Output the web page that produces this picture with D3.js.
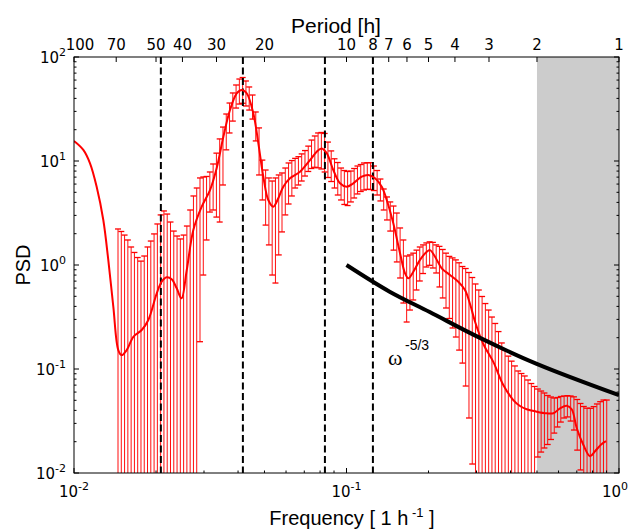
<!DOCTYPE html>
<html><head><meta charset="utf-8">
<script src="https://cdn.jsdelivr.net/npm/d3@7"></script>
<style>body{margin:0;background:#fff}</style>
</head><body><svg id="c" width="630" height="529"></svg>
<script>
// ---- data ----
const curveFreq = [0.0100,0.01082,0.01145,0.01211,0.01281,0.01336,0.01394,0.01454,0.01496,0.01561,0.01651,0.01772,0.01874,0.02012,0.02098,0.02189,0.02283,0.02382,0.02480,0.02593,0.02741,0.02942,0.03156,0.03340,0.03531,0.03736,0.03955,0.04125,0.04303,0.04550,0.04748,0.04952,0.05164,0.05387,0.05620,0.05862,0.06203,0.06753,0.07346,0.07776,0.08110,0.08459,0.08944,0.09465,0.1002,0.1059,0.1137,0.1202,0.1273,0.1347,0.1405,0.1485,0.1572,0.1640,0.1686,0.1759,0.1861,0.1970,0.2025,0.2113,0.2236,0.2398,0.2572,0.2722,0.2840,0.2963,0.3177,0.3457,0.3762,0.4094,0.4332,0.4585,0.4989,0.5429,0.5741,0.6075,0.6429,0.6706,0.6995,0.7396,0.7830,0.8166,0.8643,0.8963];
const curvePSD = [15.6,12.8,9.50,5.66,2.71,1.12,0.397,0.152,0.136,0.152,0.204,0.237,0.296,0.534,0.691,0.761,0.729,0.597,0.478,0.895,2.17,3.64,5.26,8.56,17.0,30.9,44.8,48.2,44.8,28.8,14.8,7.06,4.22,3.64,4.38,5.66,6.82,7.89,10.2,12.3,13.2,11.9,8.19,6.10,5.66,6.10,7.06,7.34,6.82,5.66,4.22,2.52,1.30,0.832,0.745,0.862,1.12,1.34,1.39,1.20,0.930,0.801,0.691,0.575,0.422,0.285,0.174,0.117,0.0702,0.0503,0.0441,0.0410,0.0389,0.0375,0.0375,0.0419,0.0444,0.0410,0.0271,0.0187,0.0145,0.0162,0.0190,0.0202];

// error bars on a log-spaced frequency grid
const barLogFreqStart = -1.8385;
const barLogFreqStep = 0.012037;
const barTop = [2.22,2.10,1.94,1.74,1.49,1.32,1.18,1.09,1.22,1.49,
 1.70,1.99,2.48,3.03,3.31,3.09,2.59,2.12,1.90,1.78,
 1.94,2.37,3.38,4.61,5.50,6.87,7.02,7.10,7.84,9.36,
 11.9,16.3,21.2,28.3,36.1,45.1,53.8,61.4,63.5,58.8,
 51.5,43.1,29.6,20.8,10.2,8.19,6.87,6.42,6.87,7.34,
 7.67,8.56,9.57,10.1,10.6,11.0,11.7,12.6,13.9,15.9,
 17.4,18.6,18.8,18.4,15.2,12.5,10.5,9.67,8.56,8.10,
 7.93,8.01,8.47,8.95,9.25,9.57,9.63,9.63,8.95,8.10,
 6.71,5.38,4.51,4.04,3.69,3.16,2.27,1.74,1.22,1.25,
 1.30,1.39,1.49,1.56,1.63,1.67,1.65,1.56,1.51,1.41,
 1.30,1.21,1.17,1.12,1.05,0.967,0.925,0.847,0.758,0.657,
 0.575,0.498,0.426,0.369,0.316,0.274,0.229,0.178,0.151,0.133,
 0.119,0.107,0.0957,0.0905,0.0857,0.0784,0.0725,0.0679,0.0642,0.0614,
 0.0588,0.0556,0.0538,0.0526,0.0532,0.0544,0.0550,0.0554,0.0550,0.0540,
 0.0509,0.0466,0.0436,0.0420,0.0419,0.0435,0.0461,0.0485,0.0503,0.0503];
const barBottom = [0,0,0,0,0,0,0,0,0,0,
 0,0,0,0,0,0,0,0,0,0,
 0,0,0,0,0,0.183,0.801,1.74,3.23,3.38,
 2.89,2.59,5.88,12.8,18.6,24.2,32.3,35.3,35.9,33.8,
 30.9,25.3,15.6,7.34,4.22,2.42,1.56,0.801,0.671,1.25,
 2.08,3.03,3.86,4.61,5.50,5.88,6.42,7.17,7.93,8.47,
 8.70,8.60,8.38,7.84,6.94,6.35,5.50,4.71,4.22,3.82,
 3.73,4.04,4.41,4.82,5.09,5.26,5.34,5.32,5.20,4.71,
 4.13,3.38,2.71,2.12,1.39,1.07,0.750,0.431,0.283,0.369,
 0.461,0.575,0.702,0.828,0.957,0.993,0.936,0.838,0.615,0.482,
 0.386,0.306,0.248,0.203,0.152,0.114,0.0686,0.0338,0.0122,0,
 0,0,0,0,0,0,0,0,0,0,
 0,0,0,0,0,0,0,0,0.01425,0.0159,
 0.0174,0.0188,0.0210,0.0242,0.0277,0.0309,0.0338,0.0346,0.0316,0.0259,
 0.0166,0.0107,0,0,0,0,0,0,0,0];

const slopeFreq = [0.1,0.144,0.202,0.309,0.499,1.0];
const slopePSD = [1.0,0.554,0.353,0.199,0.112,0.056];

const markerPeriods = [48,24,12,8];
const periodTicks = [100,70,50,40,30,20,10,8,7,6,5,4,3,2,1];
const shadeFreq = [0.5,1];
const xMajor = [0.01,0.1,1];
const yMajor = [0.01,0.1,1,10,100];

// ---- layout ----
const L=74, R=619, T=57, B=473;
const svg = d3.select('#c');
const x = d3.scaleLog().domain([0.01,1]).range([L,R]);
const y = d3.scaleLog().domain([0.01,100]).range([B,T]);

svg.append('defs').append('clipPath').attr('id','clip')
  .append('rect').attr('x',L).attr('y',T).attr('width',R-L).attr('height',B-T);

const plot = svg.append('g').attr('clip-path','url(#clip)');

// shaded band
plot.append('rect').attr('x',x(shadeFreq[0])).attr('y',T)
  .attr('width',x(shadeFreq[1])-x(shadeFreq[0])).attr('height',B-T)
  .attr('fill','#cccccc');

// error bars
const bars = barTop.map((t,i)=>({f:Math.pow(10,barLogFreqStart+i*barLogFreqStep),top:t,bot:barBottom[i]}));
const gb = plot.append('g');
gb.selectAll('line.v').data(bars).join('line').attr('class','v')
  .attr('x1',d=>x(d.f)).attr('x2',d=>x(d.f))
  .attr('y1',d=>y(d.top)).attr('y2',d=>d.bot>0?y(d.bot):B+2)
  .attr('stroke','#ff0000').attr('stroke-width',1).attr('stroke-opacity',0.95);
gb.selectAll('line.t').data(bars).join('line').attr('class','t')
  .attr('x1',d=>x(d.f)-3).attr('x2',d=>x(d.f)+3)
  .attr('y1',d=>y(d.top)).attr('y2',d=>y(d.top))
  .attr('stroke','#ff0000').attr('stroke-width',1.3);
gb.selectAll('line.b').data(bars.filter(d=>d.bot>0.01)).join('line').attr('class','b')
  .attr('x1',d=>x(d.f)-3).attr('x2',d=>x(d.f)+3)
  .attr('y1',d=>y(d.bot)).attr('y2',d=>y(d.bot))
  .attr('stroke','#ff0000').attr('stroke-width',1.3);

// dashed period markers
plot.selectAll('line.dash').data(markerPeriods).join('line').attr('class','dash')
  .attr('x1',d=>x(1/d)).attr('x2',d=>x(1/d)).attr('y1',T).attr('y2',B)
  .attr('stroke','#000').attr('stroke-width',2).attr('stroke-dasharray','7,3.5');

// smooth PSD curve
const line = d3.line().x(d=>x(d[0])).y(d=>y(d[1])).curve(d3.curveCatmullRom.alpha(0.5));
plot.append('path').datum(curveFreq.map((f,i)=>[f,curvePSD[i]]))
  .attr('d',line).attr('fill','none').attr('stroke','#ff0000').attr('stroke-width',2);

// -5/3 reference line
plot.append('path').datum(slopeFreq.map((f,i)=>[f,slopePSD[i]]))
  .attr('d',line).attr('fill','none').attr('stroke','#000').attr('stroke-width',4);

// omega label
svg.append('text').attr('x',388).attr('y',365)
  .attr('font-family','Liberation Serif, serif').attr('font-size',22).attr('fill','#000').text('ω');
svg.append('text').attr('x',405).attr('y',350)
  .attr('font-family','Liberation Sans, Arial, sans-serif').attr('font-size',14).attr('fill','#000').text('-5/3');

// frame
svg.append('rect').attr('x',L).attr('y',T).attr('width',R-L).attr('height',B-T)
  .attr('fill','none').attr('stroke','#000').attr('stroke-width',1);

// ticks
const tk = svg.append('g').attr('stroke','#000').attr('stroke-width',1);
function minorsOf(majors){const m=[];for(let k=0;k<majors.length-1;k++)for(let j=2;j<=9;j++)m.push(majors[k]*j);return m;}
xMajor.forEach(v=>{tk.append('line').attr('x1',x(v)).attr('x2',x(v)).attr('y1',B).attr('y2',B-5);});
minorsOf(xMajor).forEach(v=>{tk.append('line').attr('x1',x(v)).attr('x2',x(v)).attr('y1',B).attr('y2',B-2.5);});
yMajor.forEach(v=>{
  tk.append('line').attr('x1',L).attr('x2',L+5).attr('y1',y(v)).attr('y2',y(v));
  tk.append('line').attr('x1',R).attr('x2',R-5).attr('y1',y(v)).attr('y2',y(v));
});
minorsOf(yMajor).forEach(v=>{
  tk.append('line').attr('x1',L).attr('x2',L+2.5).attr('y1',y(v)).attr('y2',y(v));
  tk.append('line').attr('x1',R).attr('x2',R-2.5).attr('y1',y(v)).attr('y2',y(v));
});
periodTicks.forEach(p=>{tk.append('line').attr('x1',x(1/p)).attr('x2',x(1/p)).attr('y1',T).attr('y2',T+5);});

// tick labels
const tf = 'DejaVu Sans, sans-serif';
function powLabel(g, v, xx, yy, anchor){
  const e = Math.round(Math.log10(v));
  const t = g.append('text').attr('x',xx).attr('y',yy).attr('text-anchor',anchor)
    .attr('font-family',tf).attr('font-size',15).attr('fill','#000');
  t.append('tspan').text('10');
  t.append('tspan').attr('dy',-7).attr('font-size',11).text(String(e));
}
const lab = svg.append('g');
yMajor.forEach(v=>powLabel(lab,v,66,y(v)+6,'end'));
xMajor.forEach(v=>powLabel(lab,v,Math.min(x(v),615),497,'middle'));
periodTicks.forEach(p=>{
  lab.append('text').attr('x',Math.max(x(1/p),80)).attr('y',50).attr('text-anchor','middle')
    .attr('font-family',tf).attr('font-size',15).attr('fill','#000').text(p);
});

// axis titles
const af = 'Liberation Sans, Arial, sans-serif';
svg.append('text').attr('x',336).attr('y',33).attr('text-anchor','middle')
  .attr('font-family',af).attr('font-size',21).text('Period [h]');
const ft = svg.append('text').attr('x',352).attr('y',525).attr('text-anchor','middle')
  .attr('font-family',af).attr('font-size',20);
ft.append('tspan').text('Frequency [ 1 h');
ft.append('tspan').attr('dy',-8).attr('font-size',13).text(' -1');
ft.append('tspan').attr('dy',8).text(' ]');
svg.append('text').attr('transform','translate(30,265) rotate(-90)').attr('text-anchor','middle')
  .attr('font-family',af).attr('font-size',20).text('PSD');
</script></body></html>
